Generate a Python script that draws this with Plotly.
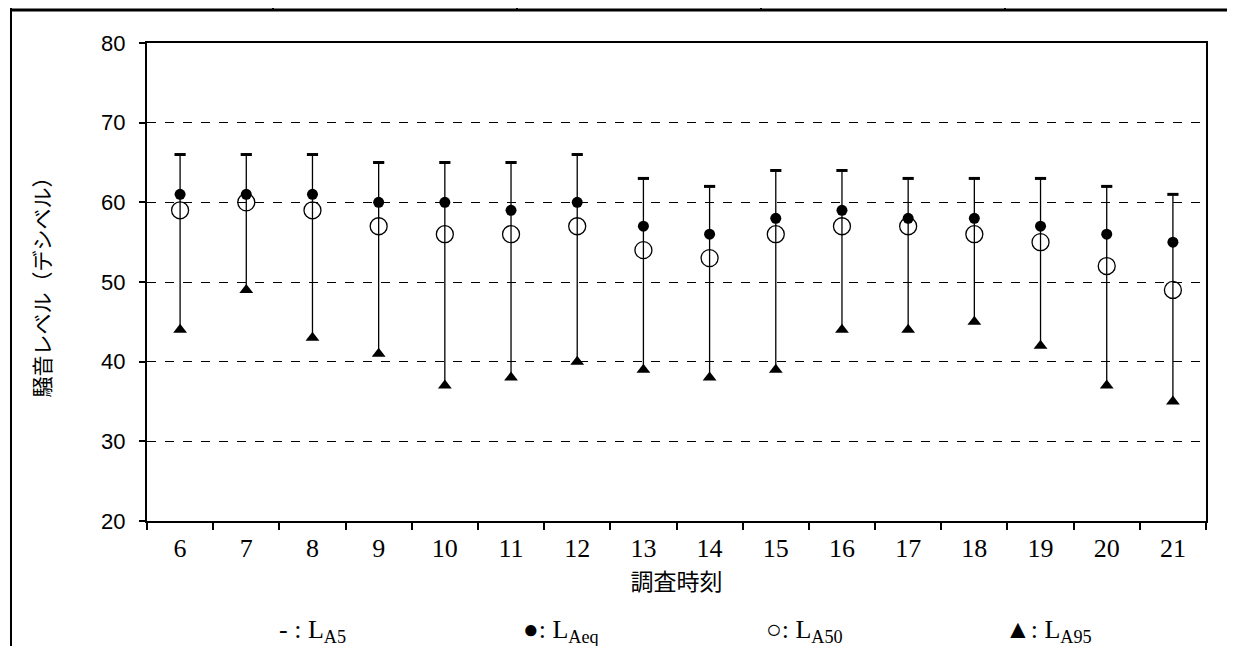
import plotly.graph_objects as go

hours = [6, 7, 8, 9, 10, 11, 12, 13, 14, 15, 16, 17, 18, 19, 20, 21]
LA5 = [66, 66, 66, 65, 65, 65, 66, 63, 62, 64, 64, 63, 63, 63, 62, 61]
LAeq = [61, 61, 61, 60, 60, 59, 60, 57, 56, 58, 59, 58, 58, 57, 56, 55]
LA50 = [59, 60, 59, 57, 56, 56, 57, 54, 53, 56, 57, 57, 56, 55, 52, 49]
LA95 = [44, 49, 43, 41, 37, 38, 40, 39, 38, 39, 44, 44, 45, 42, 37, 35]
yticks = [20, 30, 40, 50, 60, 70, 80]
legend_labels = ["- : L<sub>A5</sub>", "●: L<sub>Aeq</sub>", "○: L<sub>A50</sub>", "▲: L<sub>A95</sub>"]

# page body has an 8px margin; work in screen coordinates and shift
OFF = 8
SW, SH = 1235, 646
W, H = SW - OFF, SH - OFF
ML, MR, MT, MB = 147 - OFF, SW - 1206, 43 - OFF, SH - 521
PW, PH = W - ML - MR, H - MT - MB

def px(x):
    return (x - OFF - ML) / PW

def py(y):
    return (H - MB - (y - OFF)) / PH

fig = go.Figure()

fig.add_trace(go.Scatter(
    x=hours, y=LA95, mode="markers",
    marker=dict(symbol="triangle-up", size=12, color="black"),
    error_y=dict(type="data", symmetric=False,
                 array=[a - b for a, b in zip(LA5, LA95)],
                 arrayminus=[0] * len(hours),
                 color="black", thickness=1.3, width=0),
    showlegend=False, hoverinfo="skip"))
fig.add_trace(go.Scatter(
    x=hours, y=LA5, mode="markers",
    marker=dict(symbol="line-ew", size=8, color="black",
                line=dict(color="black", width=3)),
    showlegend=False, hoverinfo="skip"))
fig.add_trace(go.Scatter(
    x=hours, y=LAeq, mode="markers",
    marker=dict(symbol="circle", size=11, color="black"),
    showlegend=False, hoverinfo="skip"))
fig.add_trace(go.Scatter(
    x=hours, y=LA50, mode="markers",
    marker=dict(symbol="circle-open", size=17, color="black",
                line=dict(color="black", width=1.3)),
    showlegend=False, hoverinfo="skip"))

fig.update_xaxes(
    range=[hours[0] - 0.5, hours[-1] + 0.5],
    tickvals=hours, ticktext=[str(h) for h in hours],
    ticks="", showgrid=False, zeroline=False,
    showline=True, linecolor="black", linewidth=2, mirror=True,
    minor=dict(tick0=hours[0] - 0.5, dtick=1, ticks="outside", ticklen=7,
               tickcolor="black", tickwidth=1.5, showgrid=False),
    ticklabelstandoff=3,
    tickfont=dict(family="Liberation Serif, DejaVu Serif, serif", size=26, color="black"),
    title=dict(text="調査時刻", standoff=2,
               font=dict(family="Noto Sans CJK JP", size=23, color="black")),
)
fig.update_yaxes(
    range=[20, 80], tickvals=yticks,
    ticks="outside", ticklen=6, tickcolor="black", tickwidth=1.5,
    showgrid=True, gridcolor="black", gridwidth=1, griddash="dash",
    zeroline=False,
    showline=True, linecolor="black", linewidth=2, mirror=True,
    ticklabelstandoff=9,
    tickfont=dict(family="Liberation Sans, Arial, sans-serif", size=22, color="black"),
    title=dict(text="騒音レベル（デシベル）", standoff=45,
               font=dict(family="Noto Sans CJK JP", size=21, color="black")),
)

shapes = []
# outer table frame
shapes.append(dict(type="line", xref="paper", yref="paper",
                   x0=px(11), x1=px(SW), y0=py(10), y1=py(10),
                   line=dict(color="black", width=3)))
shapes.append(dict(type="line", xref="paper", yref="paper",
                   x0=px(11), x1=px(11), y0=py(OFF), y1=py(SH),
                   line=dict(color="black", width=2)))
for dx in [273, 517, 761, 1005]:
    shapes.append(dict(type="line", xref="paper", yref="paper",
                       x0=px(dx), x1=px(dx), y0=py(OFF), y1=py(10),
                       line=dict(color="black", width=2)))

annotations = []
for lx, lab in zip([312, 561, 804, 1048], legend_labels):
    annotations.append(dict(x=px(lx), y=py(631), xref="paper", yref="paper",
                            text=lab, showarrow=False, xanchor="center", yanchor="middle",
                            font=dict(family="Liberation Serif, DejaVu Serif, serif",
                                      size=26, color="black")))

fig.update_layout(
    width=W, height=H,
    margin=dict(l=ML, r=MR, t=MT, b=MB),
    paper_bgcolor="white", plot_bgcolor="white",
    shapes=shapes, annotations=annotations,
    showlegend=False,
)

fig.write_html("out.html")
